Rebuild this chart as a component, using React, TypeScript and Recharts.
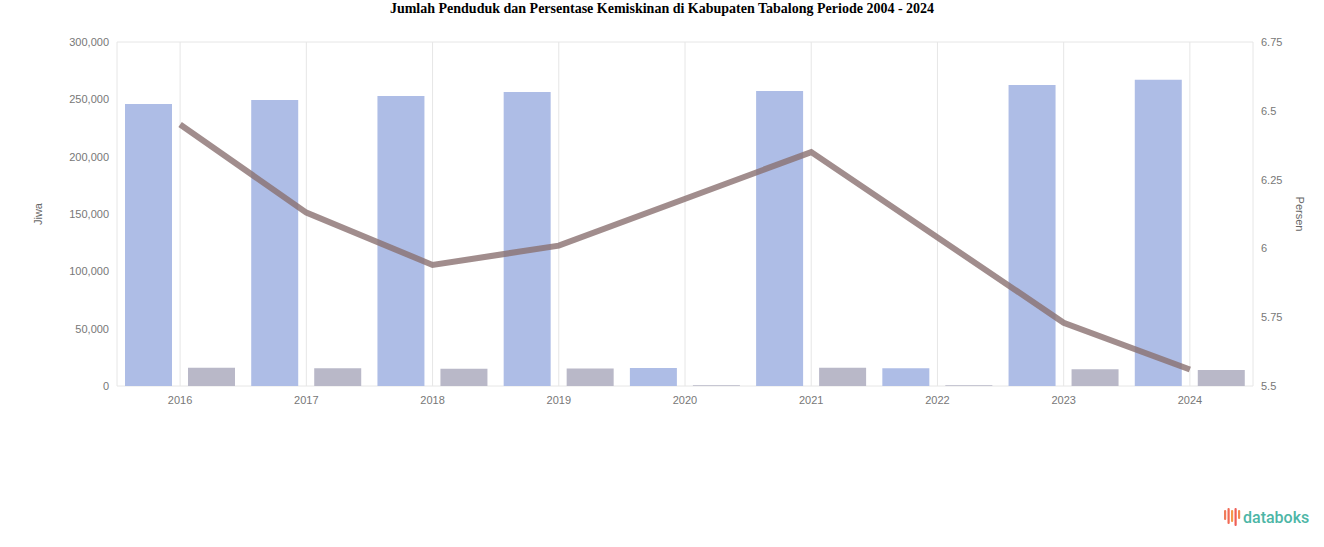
import {
  ComposedChart,
  Bar,
  Line,
  XAxis,
  YAxis,
  CartesianGrid,
} from 'recharts';

const years = ['2016', '2017', '2018', '2019', '2020', '2021', '2022', '2023', '2024'];
const penduduk = [246000, 249500, 253000, 256500, 15700, 257300, 15500, 262500, 267000];
const pendudukMiskin = [15900, 15400, 15100, 15300, 600, 16000, 600, 14500, 14000];
const persenMiskin: (number | null)[] = [6.45, 6.13, 5.94, 6.01, null, 6.35, null, 5.73, 5.56];

const leftTicks = [0, 50000, 100000, 150000, 200000, 250000, 300000];
const rightTicks = [5.5, 5.75, 6, 6.25, 6.5, 6.75];

const data = years.map((year, i) => ({
  year,
  penduduk: penduduk[i],
  miskin: pendudukMiskin[i],
  persen: persenMiskin[i],
}));

const tickStyle = { fontSize: 11, fill: '#777', fontFamily: 'Liberation Sans, Arial, sans-serif' };

function Logo() {
  const bars = [
    { h: 10, c: '#f07c5a' },
    { h: 16, c: '#f26b55' },
    { h: 12, c: '#f59a4a' },
    { h: 18, c: '#ef5f57' },
    { h: 9, c: '#f48a4f' },
  ];
  return (
    <div style={{ position: 'absolute', left: 1224, top: 508, display: 'flex', alignItems: 'center' }}>
      <svg width={18} height={20}>
        {bars.map((b, i) => (
          <rect key={i} x={i * 3.5} y={i % 2 === 0 ? 2 : 0} width={2.2} height={b.h} rx={1} fill={b.c} />
        ))}
      </svg>
      <span
        style={{
          fontFamily: 'Roboto, sans-serif',
          fontWeight: 500,
          fontSize: 16,
          color: '#4db6a6',
          marginLeft: 1,
          lineHeight: '20px',
        }}
      >
        databoks
      </span>
    </div>
  );
}

export default function App() {
  return (
    <div style={{ position: 'absolute', left: 0, top: 0, width: 1324, height: 547, background: '#fff' }}>
      <div
        style={{
          position: 'absolute',
          top: 1,
          left: 0,
          width: 1324,
          textAlign: 'center',
          fontFamily: 'Liberation Serif, Times New Roman, serif',
          fontWeight: 'bold',
          fontSize: 14,
          color: '#000',
        }}
      >
        Jumlah Penduduk dan Persentase Kemiskinan di Kabupaten Tabalong Periode 2004 - 2024
      </div>
      <ComposedChart
        width={1324}
        height={547}
        data={data}
        margin={{ top: 42, right: 0, bottom: 131, left: 0 }}
        barCategoryGap={8}
        barGap={16}
      >
        <CartesianGrid stroke="#e6e6e6" vertical horizontal />
        <XAxis
          dataKey="year"
          tick={tickStyle}
          tickLine={false}
          axisLine={false}
          height={30}
          tickMargin={4}
        />
        <YAxis
          yAxisId="left"
          width={117}
          domain={[0, 300000]}
          ticks={leftTicks}
          tickFormatter={(v: number) => v.toLocaleString('en-US')}
          tick={tickStyle}
          tickLine={false}
          axisLine={false}
          label={{
            value: 'Jiwa',
            angle: -90,
            position: 'insideLeft',
            offset: 38,
            style: { ...tickStyle, fill: '#666', textAnchor: 'middle' },
          }}
        />
        <YAxis
          yAxisId="right"
          orientation="right"
          width={71}
          domain={[5.5, 6.75]}
          ticks={rightTicks}
          tick={tickStyle}
          tickLine={false}
          axisLine={false}
          label={{
            value: 'Persen',
            angle: 90,
            position: 'insideRight',
            offset: 24,
            style: { ...tickStyle, fill: '#666', textAnchor: 'middle' },
          }}
        />
        <Bar yAxisId="left" dataKey="penduduk" fill="#aebde6" isAnimationActive={false} />
        <Bar yAxisId="left" dataKey="miskin" fill="#b9b8c8" isAnimationActive={false} />
        <Line
          yAxisId="right"
          dataKey="persen"
          stroke="#8a7070"
          strokeOpacity={0.8}
          strokeWidth={6}
          dot={false}
          connectNulls
          type="linear"
          isAnimationActive={false}
        />
      </ComposedChart>
      <Logo />
    </div>
  );
}
